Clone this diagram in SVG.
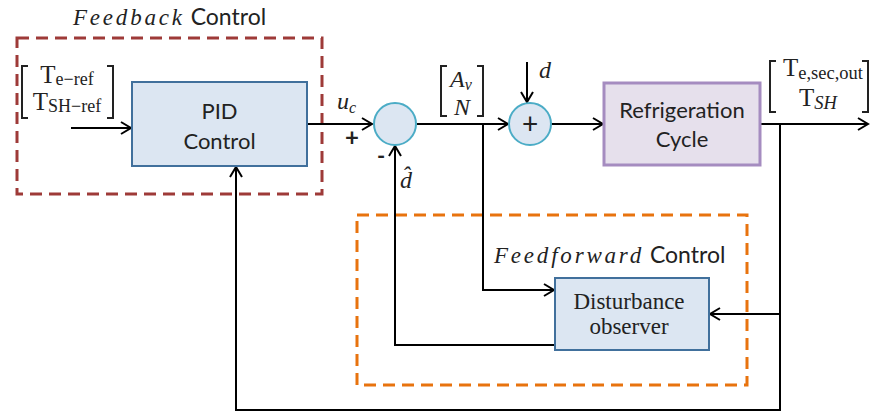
<svg xmlns="http://www.w3.org/2000/svg" width="872" height="412" viewBox="0 0 872 412">
<defs>
<marker id="arr" markerWidth="14" markerHeight="14" refX="12" refY="7" orient="auto" markerUnits="userSpaceOnUse">
<path d="M2,1 L12,7 L2,13" fill="none" stroke="#000" stroke-width="2"/>
</marker>
<style>
.ln{fill:none;stroke:#000;stroke-width:2}
.blk{fill:#dce6f2;stroke:#41709c;stroke-width:2}
.sum{fill:#dce6f2;stroke:#4bacc6;stroke-width:2}
.sans{font-family:"Lato","Open Sans","Liberation Sans",sans-serif;fill:#222}
.serif{font-family:"Liberation Serif","DejaVu Serif",serif;fill:#222}
.it{font-family:"Liberation Serif","DejaVu Serif",serif;font-style:italic;fill:#222}
.br{fill:none;stroke:#222;stroke-width:2}
</style>
</defs>
<rect width="872" height="412" fill="#fff"/>
<g id="feedback-group">
<rect x="17" y="38" width="305" height="156" fill="none" stroke="#9e3a38" stroke-width="3" stroke-dasharray="12,7"/>
<text x="73" y="25" font-size="23"><tspan class="it" letter-spacing="2.8">Feedback</tspan><tspan class="sans"> Control</tspan></text>
</g>
<g id="feedforward-group">
<rect x="357" y="215" width="390" height="170" fill="none" stroke="#e8730e" stroke-width="3" stroke-dasharray="12,7"/>
<text x="494" y="263" font-size="23"><tspan class="it" letter-spacing="2.8">Feedforward</tspan><tspan class="sans"> Control</tspan></text>
</g>
<g id="connectors">
<path class="ln" d="M71,128 H131" marker-end="url(#arr)"/>
<path class="ln" d="M307,124 H372" marker-end="url(#arr)"/>
<path class="ln" d="M417,124 H508" marker-end="url(#arr)"/>
<path class="ln" d="M527,62 V102" marker-end="url(#arr)"/>
<path class="ln" d="M551,124 H603" marker-end="url(#arr)"/>
<path class="ln" d="M760,124 H868" marker-end="url(#arr)"/>
<path class="ln" d="M483,124 V290 H554" marker-end="url(#arr)"/>
<path class="ln" d="M780,124 V410 H236 V167" marker-end="url(#arr)"/>
<path class="ln" d="M780,314 H710" marker-end="url(#arr)"/>
<path class="ln" d="M555,339 V345 H395 V146" marker-end="url(#arr)"/>
</g>
<g id="pid">
<rect class="blk" x="132" y="82" width="175" height="84"/>
<text class="sans" x="219.5" y="119" font-size="22" text-anchor="middle">PID</text>
<text class="sans" x="219.5" y="149" font-size="22" text-anchor="middle">Control</text>
</g>
<g id="sum1">
<circle class="sum" cx="395" cy="124" r="21"/>
</g>
<g id="sum2">
<circle class="sum" cx="530" cy="124" r="21"/>
<text class="sans" x="530" y="134" font-size="28" text-anchor="middle">+</text>
</g>
<g id="refrigeration">
<rect x="604" y="83" width="156" height="82" fill="#e6e0ec" stroke="#a58cc0" stroke-width="3"/>
<text class="sans" x="682" y="118" font-size="22" text-anchor="middle">Refrigeration</text>
<text class="sans" x="682" y="147" font-size="22" text-anchor="middle">Cycle</text>
</g>
<g id="observer">
<rect class="blk" x="555" y="278" width="154" height="72"/>
<text class="serif" x="629" y="309" font-size="23" text-anchor="middle">Disturbance</text>
<text class="serif" x="629" y="334" font-size="23" text-anchor="middle">observer</text>
</g>
<g id="labels">
<path class="br" d="M28,66 H22 V118 H28 M107,66 H113 V118 H107"/>
<text class="serif" x="67" y="83" font-size="25" text-anchor="middle">T<tspan font-size="18" dy="2">e−ref</tspan></text>
<text class="serif" x="67" y="110" font-size="25" text-anchor="middle">T<tspan font-size="18" dy="2">SH−ref</tspan></text>
<path class="br" d="M447,66 H441 V116 H447 M477,66 H483 V116 H477"/>
<text class="it" x="461" y="87" font-size="24" text-anchor="middle">A<tspan font-size="16" dy="3">v</tspan></text>
<text class="it" x="462" y="115" font-size="24" text-anchor="middle">N</text>
<path class="br" d="M776,61 H770 V112 H776 M862,61 H868 V112 H862"/>
<text class="serif" x="823" y="76" font-size="25" text-anchor="middle">T<tspan font-size="18.5" dy="3">e,sec,out</tspan></text>
<text class="serif" x="818" y="106" font-size="25" text-anchor="middle">T<tspan font-size="18.5" dy="3" font-style="italic">SH</tspan></text>
<text class="it" x="337" y="109" font-size="24">u<tspan font-size="16" dy="4">c</tspan></text>
<text class="sans" x="352" y="146" font-size="24" font-weight="bold" text-anchor="middle">+</text>
<text class="sans" x="381" y="164" font-size="22" font-weight="bold" text-anchor="middle">-</text>
<text class="it" x="406" y="188" font-size="24" text-anchor="middle">d̂</text>
<text class="it" x="545" y="78" font-size="24" text-anchor="middle">d</text>
</g>
</svg>
